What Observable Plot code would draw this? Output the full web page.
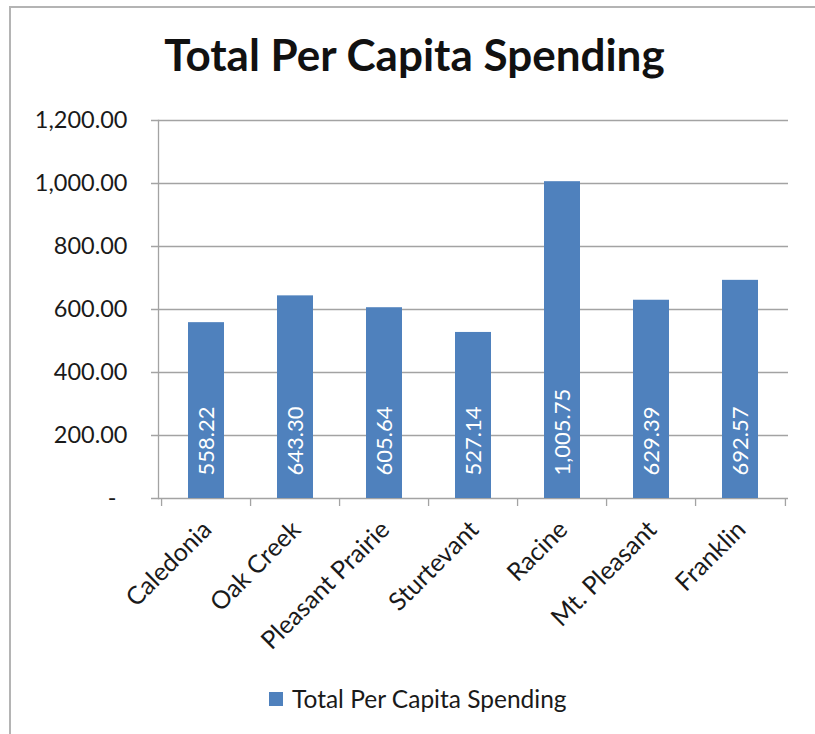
<!DOCTYPE html>
<html>
<head>
<meta charset="utf-8">
<script src="https://cdn.jsdelivr.net/npm/d3@7"></script>
<script src="https://cdn.jsdelivr.net/npm/@observablehq/plot@0.6"></script>
<style>
  body { margin: 0; background: #fff; font-family: Lato, sans-serif; }
  #wrap { position: relative; width: 815px; height: 734px; overflow: hidden; background: #fff; }
  #border { position: absolute; left: 9px; top: 6px; width: 1000px; height: 1000px; border: 2px solid #b4b4b4; box-sizing: border-box; }
  #title { position: absolute; left: 0; width: 829px; top: 32px; text-align: center; font-weight: 700; font-size: 44px; color: #111; line-height: 1; white-space: nowrap; }
  #chart { position: absolute; left: 0; top: 0; }
  #legend { position: absolute; left: 269px; top: 684px; display: flex; align-items: center; font-size: 24.5px; color: #1a1a1a; white-space: nowrap; }
  #legend .sw { width: 14px; height: 14px; background: #4F81BD; margin-right: 9px; }
</style>
</head>
<body>
<div id="wrap">
  <div id="border"></div>
  <div id="title">Total Per Capita Spending</div>
  <div id="chart"></div>
  <div id="legend"><span class="sw"></span><span>Total Per Capita Spending</span></div>
</div>
<script>
const cities = ["Caledonia", "Oak Creek", "Pleasant Prairie", "Sturtevant", "Racine", "Mt. Pleasant", "Franklin"];
const spending = [558.22, 643.30, 605.64, 527.14, 1005.75, 629.39, 692.57];
const yTicks = [0, 200, 400, 600, 800, 1000, 1200];

const data = cities.map((c, i) => ({city: c, value: spending[i]}));
const fmt = d3.format(",.2f");
const grid = "#a3a3a3";
const W = 815, H = 734, mL = 158, mR = 28, mT = 120, mB = 236;
const step = (W - mL - mR) / cities.length;

const chart = Plot.plot({
  width: W,
  height: H,
  marginLeft: mL,
  marginRight: mR,
  marginTop: mT,
  marginBottom: mB,
  style: {fontFamily: "Lato, sans-serif", background: "transparent", color: "#1a1a1a"},
  x: {domain: cities, paddingInner: 0.6, paddingOuter: 0.3, axis: null},
  y: {domain: [0, 1200], axis: null},
  marks: [
    Plot.ruleY(yTicks, {y: d => d, stroke: grid, strokeWidth: 1.3, insetLeft: -7, insetRight: -1}),
    Plot.frame({anchor: "left", stroke: grid, strokeWidth: 1.3}),
    Plot.ruleX(cities, {x: d => d, y1: 0, y2: 0, insetBottom: -8, dx: -step / 2, stroke: grid, strokeWidth: 1.3}),
    Plot.ruleX([cities[cities.length - 1]], {x: d => d, y1: 0, y2: 0, insetBottom: -8, dx: step / 2, stroke: grid, strokeWidth: 1.3}),
    Plot.barY(data, {x: "city", y: "value", fill: "#4F81BD"}),
    Plot.text(yTicks.filter(t => t > 0), {y: d => d, text: d => fmt(d), frameAnchor: "left", textAnchor: "end", dx: -31, fontSize: 23.5, fill: "#1a1a1a"}),
    Plot.text([0], {y: d => d, text: () => "-", frameAnchor: "left", textAnchor: "end", dx: -42, fontSize: 23.5, fill: "#1a1a1a"}),
    Plot.text(data, {x: "city", y: () => 0, text: d => fmt(d.value), rotate: -90, textAnchor: "start", dy: -23, fontSize: 22, fill: "white"}),
    Plot.text(cities, {x: d => d, y: () => 0, text: d => d, rotate: -45, textAnchor: "end", dx: 1, dy: 27, fontSize: 25, fill: "#1a1a1a"})
  ]
});
document.getElementById("chart").appendChild(chart);
</script>
</body>
</html>
